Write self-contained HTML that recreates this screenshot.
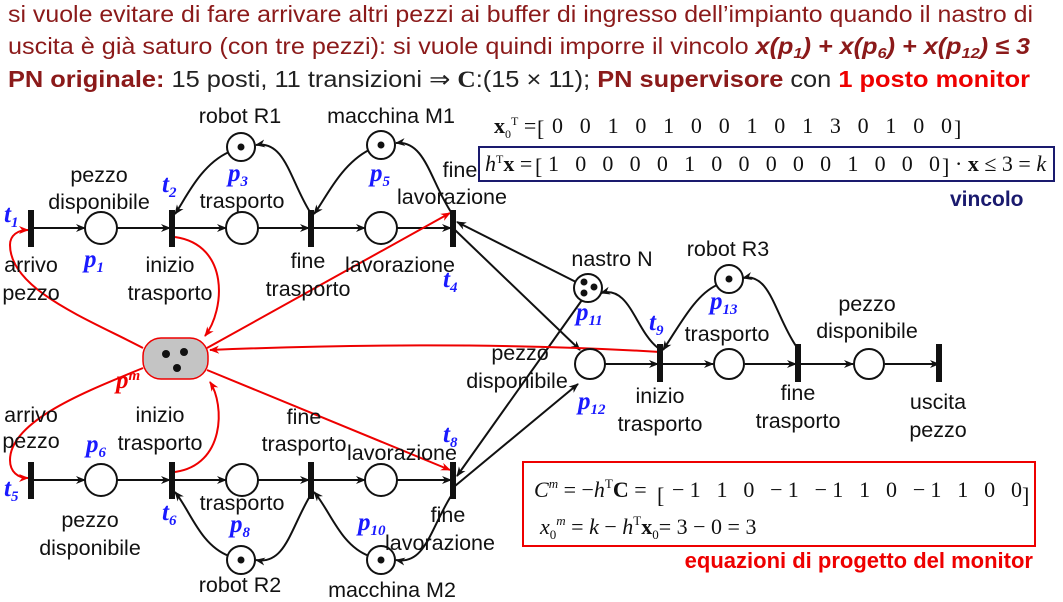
<!DOCTYPE html>
<html><head><meta charset="utf-8"><style>
body{margin:0;background:#fff;}
svg{display:block;font-family:"Liberation Sans",sans-serif;}
.t{font-size:21.5px;fill:#111;}
.pl{font-family:"Liberation Serif",serif;font-style:italic;font-weight:bold;fill:#1a1aff;font-size:25px;}
.m{font-family:"Liberation Serif",serif;font-size:22px;fill:#111;}
</style></head><body>
<svg width="1063" height="602" viewBox="0 0 1063 602">
<defs>
<marker id="ak" markerWidth="10" markerHeight="10" refX="9" refY="5" orient="auto" markerUnits="userSpaceOnUse"><path d="M0,1 L10,5 L0,9 L3,5z" fill="#111"/></marker>
<marker id="ar" markerWidth="10" markerHeight="10" refX="9" refY="5" orient="auto" markerUnits="userSpaceOnUse"><path d="M0,1 L10,5 L0,9 L3,5z" fill="#e00"/></marker>
</defs>
<g font-size="23">
<text x="8" y="22" fill="#8b1a1a" textLength="1025" lengthAdjust="spacingAndGlyphs">si vuole evitare di fare arrivare altri pezzi ai buffer di ingresso dell’impianto quando il nastro di</text>
<text x="8" y="54" fill="#8b1a1a" textLength="1022" lengthAdjust="spacingAndGlyphs">uscita è già saturo (con tre pezzi): si vuole quindi imporre il vincolo <tspan font-weight="bold" font-style="italic">x(p<tspan font-size="15" dy="4">1</tspan><tspan dy="-4">) + x(p</tspan><tspan font-size="15" dy="4">6</tspan><tspan dy="-4">) + x(p</tspan><tspan font-size="15" dy="4">12</tspan><tspan dy="-4">) ≤ 3</tspan></tspan></text>
<text x="8" y="87" fill="#8b1a1a" textLength="1022" lengthAdjust="spacingAndGlyphs"><tspan font-weight="bold">PN originale:</tspan><tspan fill="#222"> 15 posti, 11 transizioni ⇒ </tspan><tspan font-weight="bold" font-family="Liberation Serif" fill="#222">C</tspan><tspan fill="#222">:(15 × 11); </tspan><tspan font-weight="bold">PN supervisore</tspan><tspan fill="#222"> con </tspan><tspan font-weight="bold" fill="#e00">1 posto monitor</tspan></text>
</g>
<g>
<text class="m" x="494" y="133"><tspan font-weight="bold">x</tspan><tspan font-size="12" dy="5">0</tspan><tspan font-size="12" dy="-13">T</tspan><tspan dy="8"> = </tspan></text>
<text class="m" x="537" y="136" font-size="32">[</text>
<text class="m" x="552" y="133" textLength="400">0   0   1   0   1   0   0   1   0   1   3   0   1   0   0</text>
<text class="m" x="954" y="136" font-size="32">]</text>
</g>
<rect x="479" y="147" width="575" height="34" fill="none" stroke="#1a1a6e" stroke-width="2"/>
<g>
<text class="m" x="485" y="171"><tspan font-style="italic">h</tspan><tspan font-size="12" dy="-8">T</tspan><tspan dy="8" font-weight="bold">x</tspan> = </text>
<text class="m" x="535" y="174" font-size="32">[</text>
<text class="m" x="548" y="171" textLength="392">1   0   0   0   0   1   0   0   0   0   0   1   0   0   0</text>
<text class="m" x="942" y="174" font-size="32">]</text>
<text class="m" x="955" y="171" font-size="21">· <tspan font-weight="bold">x</tspan> ≤ 3 = <tspan font-style="italic">k</tspan></text>
</g>
<text x="950" y="206" font-size="21" font-weight="bold" fill="#1a1a6e">vincolo</text>

<g stroke="#111" stroke-width="2" fill="none">
<line x1="33" y1="228" x2="85" y2="228" marker-end="url(#ak)"/>
<line x1="117" y1="228" x2="170" y2="228" marker-end="url(#ak)"/>
<line x1="174" y1="228" x2="226" y2="228" marker-end="url(#ak)"/>
<line x1="258" y1="228" x2="309" y2="228" marker-end="url(#ak)"/>
<line x1="313" y1="228" x2="365" y2="228" marker-end="url(#ak)"/>
<line x1="397" y1="228" x2="451" y2="228" marker-end="url(#ak)"/>
<path d="M229,152 C200,165 185,200 175,214" marker-end="url(#ak)"/>
<path d="M310,212 C290,180 285,140 256,145" marker-end="url(#ak)"/>
<path d="M369,150 C340,165 325,200 314,214" marker-end="url(#ak)"/>
<path d="M451,212 C430,180 425,140 396,143" marker-end="url(#ak)"/>
<line x1="33" y1="480" x2="85" y2="480" marker-end="url(#ak)"/>
<line x1="117" y1="480" x2="170" y2="480" marker-end="url(#ak)"/>
<line x1="174" y1="480" x2="226" y2="480" marker-end="url(#ak)"/>
<line x1="258" y1="480" x2="309" y2="480" marker-end="url(#ak)"/>
<line x1="313" y1="480" x2="365" y2="480" marker-end="url(#ak)"/>
<line x1="397" y1="480" x2="451" y2="480" marker-end="url(#ak)"/>
<path d="M229,556 C200,545 190,510 175,492" marker-end="url(#ak)"/>
<path d="M310,496 C290,530 285,565 256,560" marker-end="url(#ak)"/>
<path d="M369,556 C340,545 330,510 314,492" marker-end="url(#ak)"/>
<path d="M451,496 C430,530 425,565 396,560" marker-end="url(#ak)"/>
<line x1="576" y1="282" x2="457" y2="222" marker-end="url(#ak)"/>
<line x1="455" y1="230" x2="580" y2="350" marker-end="url(#ak)"/>
<line x1="582" y1="300" x2="457" y2="476" marker-end="url(#ak)"/>
<line x1="455" y1="486" x2="578" y2="384" marker-end="url(#ak)"/>
<line x1="604" y1="364" x2="658" y2="364" marker-end="url(#ak)"/>
<line x1="662" y1="364" x2="713" y2="364" marker-end="url(#ak)"/>
<line x1="745" y1="364" x2="796" y2="364" marker-end="url(#ak)"/>
<line x1="800" y1="364" x2="853" y2="364" marker-end="url(#ak)"/>
<line x1="885" y1="364" x2="939" y2="364" marker-end="url(#ak)"/>
<path d="M658,348 C635,330 630,285 601,293" marker-end="url(#ak)"/>
<path d="M717,285 C695,295 680,325 663,350" marker-end="url(#ak)"/>
<path d="M796,346 C775,315 770,272 743,278" marker-end="url(#ak)"/>
</g>
<g stroke="#e00" stroke-width="2" fill="none">
<path d="M143,348 C90,320 10,290 10,245 C10,235 18,230 28,230" marker-end="url(#ar)"/>
<path d="M175,237 C230,245 225,310 205,336" marker-end="url(#ar)"/>
<line x1="207" y1="348" x2="450" y2="213" marker-end="url(#ar)"/>
<path d="M660,352 C500,342 330,345 210,350" marker-end="url(#ar)"/>
<path d="M143,368 C90,390 10,420 10,460 C10,472 18,478 28,478" marker-end="url(#ar)"/>
<path d="M175,472 C225,465 225,405 210,382" marker-end="url(#ar)"/>
<line x1="207" y1="370" x2="450" y2="470" marker-end="url(#ar)"/>
</g>
<g fill="#111">
<rect x="28" y="210" width="6" height="37"/><rect x="169" y="210" width="6" height="37"/>
<rect x="308" y="210" width="6" height="37"/><rect x="450" y="210" width="6" height="37"/>
<rect x="28" y="462" width="6" height="37"/><rect x="169" y="462" width="6" height="37"/>
<rect x="308" y="462" width="6" height="37"/><rect x="450" y="462" width="6" height="37"/>
<rect x="657" y="344" width="6" height="38"/><rect x="795" y="344" width="6" height="38"/>
<rect x="936" y="344" width="6" height="38"/>
</g>
<g fill="#fff" stroke="#111" stroke-width="2">
<circle cx="101" cy="228" r="16"/><circle cx="242" cy="228" r="16"/><circle cx="381" cy="228" r="16"/>
<circle cx="241" cy="147" r="14"/><circle cx="381" cy="145" r="14"/>
<circle cx="101" cy="480" r="16"/><circle cx="242" cy="480" r="16"/><circle cx="381" cy="480" r="16"/>
<circle cx="241" cy="560" r="14"/><circle cx="381" cy="560" r="14"/>
<circle cx="590" cy="364" r="15"/><circle cx="729" cy="364" r="15"/><circle cx="869" cy="364" r="15"/>
<circle cx="588" cy="288" r="14"/><circle cx="729" cy="279" r="14"/>
</g>
<g fill="#111">
<circle cx="241" cy="147" r="3.5"/><circle cx="381" cy="145" r="3.5"/>
<circle cx="241" cy="560" r="3.5"/><circle cx="381" cy="560" r="3.5"/><circle cx="729" cy="279" r="3.5"/>
<circle cx="584" cy="282" r="3.5"/><circle cx="594" cy="287" r="3.5"/><circle cx="584" cy="293" r="3.5"/>
</g>
<rect x="143" y="338" width="65" height="41" rx="18" fill="#c4c4c4" stroke="#e00" stroke-width="1.5"/>
<g fill="#111"><circle cx="166" cy="354" r="4"/><circle cx="184" cy="352" r="4"/><circle cx="177" cy="368" r="4"/></g>

<g class="t" text-anchor="middle">
<text x="240" y="123">robot R1</text><text x="391" y="123">macchina M1</text>
<text x="99" y="182">pezzo</text><text x="99" y="209">disponibile</text>
<text x="242" y="208">trasporto</text>
<text x="460" y="177">fine</text><text x="452" y="204">lavorazione</text>
<text x="31" y="272">arrivo</text><text x="31" y="300">pezzo</text>
<text x="170" y="272">inizio</text><text x="170" y="300">trasporto</text>
<text x="308" y="268">fine</text><text x="308" y="296">trasporto</text>
<text x="400" y="272">lavorazione</text>
<text x="31" y="422">arrivo</text><text x="31" y="448">pezzo</text>
<text x="160" y="422">inizio</text><text x="160" y="450">trasporto</text>
<text x="304" y="424">fine</text><text x="304" y="451">trasporto</text>
<text x="402" y="460">lavorazione</text>
<text x="242" y="510">trasporto</text>
<text x="90" y="527">pezzo</text><text x="90" y="555">disponibile</text>
<text x="448" y="522">fine</text><text x="440" y="550">lavorazione</text>
<text x="240" y="592">robot R2</text><text x="392" y="597">macchina M2</text>
<text x="612" y="266">nastro N</text><text x="728" y="256">robot R3</text>
<text x="520" y="360">pezzo</text><text x="517" y="388">disponibile</text>
<text x="727" y="341">trasporto</text>
<text x="867" y="311">pezzo</text><text x="867" y="338">disponibile</text>
<text x="660" y="403">inizio</text><text x="660" y="431">trasporto</text>
<text x="798" y="400">fine</text><text x="798" y="428">trasporto</text>
<text x="938" y="409">uscita</text><text x="938" y="437">pezzo</text>
</g>
<g class="pl">
<text x="4" y="222">t<tspan font-size="15" dy="5">1</tspan></text>
<text x="162" y="192">t<tspan font-size="15" dy="5">2</tspan></text>
<text x="443" y="287">t<tspan font-size="15" dy="5">4</tspan></text>
<text x="4" y="496">t<tspan font-size="15" dy="5">5</tspan></text>
<text x="162" y="520">t<tspan font-size="15" dy="5">6</tspan></text>
<text x="443" y="442">t<tspan font-size="15" dy="5">8</tspan></text>
<text x="649" y="330">t<tspan font-size="15" dy="5">9</tspan></text>
<text x="84" y="267">p<tspan font-size="15" dy="5">1</tspan></text>
<text x="228" y="181">p<tspan font-size="15" dy="5">3</tspan></text>
<text x="370" y="181">p<tspan font-size="15" dy="5">5</tspan></text>
<text x="86" y="452">p<tspan font-size="15" dy="5">6</tspan></text>
<text x="230" y="532">p<tspan font-size="15" dy="5">8</tspan></text>
<text x="358" y="530">p<tspan font-size="15" dy="5">10</tspan></text>
<text x="576" y="320">p<tspan font-size="15" dy="5">11</tspan></text>
<text x="578" y="409">p<tspan font-size="15" dy="5">12</tspan></text>
<text x="710" y="309">p<tspan font-size="15" dy="5">13</tspan></text>
<text x="116" y="388" fill="#e00">p<tspan font-size="15" dy="-8">m</tspan></text>
</g>
<rect x="523" y="462" width="512" height="84" fill="none" stroke="#e00" stroke-width="2"/>
<g>
<text class="m" x="534" y="497" font-size="24"><tspan font-style="italic">C</tspan><tspan font-size="13" dy="-9" font-style="italic">m</tspan><tspan dy="9"> = −</tspan><tspan font-style="italic">h</tspan><tspan font-size="13" dy="-9">T</tspan><tspan dy="9" font-weight="bold">C</tspan> =</text>
<text class="m" x="657" y="503" font-size="38">[</text>
<text class="m" x="672" y="497" font-size="24" textLength="350">−1   1   0   −1   −1   1   0   −1   1   0   0</text>
<text class="m" x="1022" y="503" font-size="38">]</text>
<text class="m" x="540" y="534" font-size="24"><tspan font-style="italic">x</tspan><tspan font-size="13" dy="5">0</tspan><tspan font-size="13" dy="-14" font-style="italic">m</tspan><tspan dy="9"> = </tspan><tspan font-style="italic">k</tspan> − <tspan font-style="italic">h</tspan><tspan font-size="13" dy="-9">T</tspan><tspan dy="9" font-weight="bold">x</tspan><tspan font-size="13" dy="5">0</tspan><tspan dy="-5">= 3 − 0 = 3</tspan></text>
</g>
<text x="1033" y="568" text-anchor="end" font-size="22" font-weight="bold" fill="#e00">equazioni di progetto del monitor</text>
</svg>
</body></html>
